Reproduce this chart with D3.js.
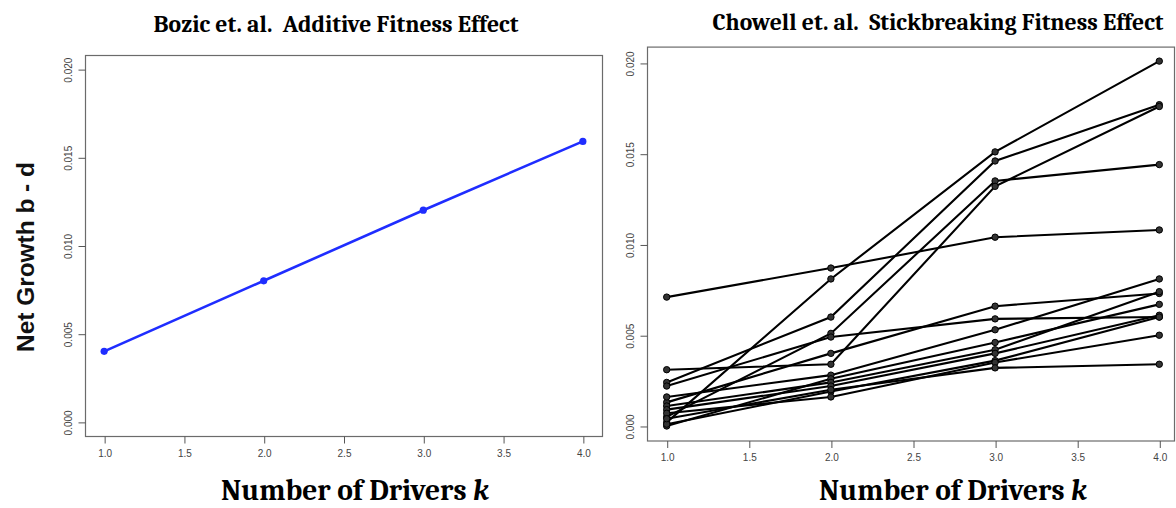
<!DOCTYPE html>
<html><head><meta charset="utf-8">
<script src="https://cdn.jsdelivr.net/npm/d3@7"></script>
<style>body{margin:0;background:#fff}svg{display:block}</style>
</head><body><svg id="c" width="1176" height="508"></svg>
<script>
// ---- data ----
const drivers = [1, 2, 3, 4];
const xTicks = [1.0, 1.5, 2.0, 2.5, 3.0, 3.5, 4.0];
const yTicks = [0.000, 0.005, 0.010, 0.015, 0.020];
const bozicValues = [0.0040, 0.0080, 0.0120, 0.0159];
const chowell01 = [0.0071, 0.0087, 0.0104, 0.0108];
const chowell02 = [0.0002, 0.0081, 0.0151, 0.0201];
const chowell03 = [0.0024, 0.0060, 0.0146, 0.0177];
const chowell04 = [0.0005, 0.0051, 0.0135, 0.0144];
const chowell05 = [0.0031, 0.0034, 0.0132, 0.0176];
const chowell06 = [0.0022, 0.0049, 0.0059, 0.0060];
const chowell07 = [0.0013, 0.0040, 0.0066, 0.0073];
const chowell08 = [0.0016, 0.0028, 0.0053, 0.0081];
const chowell09 = [0.0000, 0.0026, 0.0046, 0.0067];
const chowell10 = [0.0011, 0.0024, 0.0042, 0.0074];
const chowell11 = [0.0009, 0.0022, 0.0040, 0.0061];
const chowell12 = [0.0001, 0.0019, 0.0036, 0.0060];
const chowell13 = [0.0007, 0.0016, 0.0035, 0.0050];
const chowell14 = [0.0004, 0.0020, 0.0032, 0.0034];
const chowellSeries = [chowell01, chowell02, chowell03, chowell04, chowell05, chowell06, chowell07,
  chowell08, chowell09, chowell10, chowell11, chowell12, chowell13, chowell14];
const titleLeft = "Bozic et. al.  Additive Fitness Effect";
const titleRight = "Chowell et. al.  Stickbreaking Fitness Effect";
const yLabel = "Net Growth b - d";

const svg = d3.select("#c");
const fmt = d3.format(".1f"), fmtY = d3.format(".3f");

function panel(opt) {
  const g = svg.append("g");
  const x = d3.scaleLinear().domain([0.88, 4.12]).range(opt.xr);
  const y = d3.scaleLinear().domain(opt.yd).range(opt.yr);
  const left = opt.xr[0], right = Math.min(opt.xr[1], opt.frameRight || opt.xr[1]);
  const top = opt.yr[1], bottom = opt.yr[0];
  // frame
  g.append("rect").attr("x", left + 0.5).attr("y", top + 0.5)
    .attr("width", right - left).attr("height", bottom - top)
    .attr("fill", "none").attr("stroke", "#6b6b6b").attr("stroke-width", 1.2);
  // x axis
  const xa = g.append("g").attr("transform", `translate(0.5,${bottom + 0.5})`)
    .call(d3.axisBottom(x).tickValues(xTicks).tickFormat(fmt).tickSize(7).tickPadding(6));
  xa.select(".domain").remove();
  xa.selectAll("line").attr("stroke", "#555");
  xa.selectAll("text").attr("font-family", "Liberation Sans, Arial, sans-serif")
    .attr("font-size", 10).attr("fill", "#444");
  // y axis
  const ya = g.append("g").attr("transform", `translate(${left + 0.5},0.5)`)
    .call(d3.axisLeft(y).tickValues(yTicks).tickFormat(fmtY).tickSize(7).tickPadding(0));
  ya.select(".domain").remove();
  ya.selectAll("line").attr("stroke", "#555");
  ya.selectAll("text")
    .attr("font-family", "Liberation Sans, Arial, sans-serif").attr("font-size", 10).attr("fill", "#444")
    .attr("x", null).attr("dy", null)
    .attr("text-anchor", "middle").attr("dominant-baseline", "central")
    .attr("transform", "translate(-17,0) rotate(-90)");
  return { g, x, y };
}

// left panel
const L = panel({ xr: [85, 602], yd: [-0.0008, 0.0208], yr: [436, 55] });
const lineL = d3.line().x((d, i) => L.x(drivers[i])).y(d => L.y(d));
L.g.append("path").datum(bozicValues).attr("d", lineL)
  .attr("fill", "none").attr("stroke", "#1f2dff").attr("stroke-width", 2.6);
L.g.selectAll("circle.b").data(bozicValues).join("circle")
  .attr("cx", (d, i) => L.x(drivers[i])).attr("cy", d => L.y(d)).attr("r", 3.6)
  .attr("fill", "#1f2dff");

// right panel
const R = panel({ xr: [647, 1179], frameRight: 1174, yd: [-0.0008, 0.0209], yr: [440.5, 46.6] });
const lineR = d3.line().x((d, i) => R.x(drivers[i])).y(d => R.y(d));
R.g.selectAll("path.s").data(chowellSeries).join("path")
  .attr("d", lineR).attr("fill", "none").attr("stroke", "#000").attr("stroke-width", 2.1);
chowellSeries.forEach(s => {
  R.g.selectAll(null).data(s).join("circle")
    .attr("cx", (d, i) => R.x(drivers[i])).attr("cy", d => R.y(d)).attr("r", 3.2)
    .attr("fill", "#333").attr("stroke", "#000").attr("stroke-width", 1);
});

// titles
function fitText(sel, w) {
  const len = sel.node().getComputedTextLength();
  const fs = parseFloat(sel.attr("font-size"));
  sel.attr("font-size", fs * w / len);
}
const serif = "Cambria, 'Liberation Serif', 'DejaVu Serif', serif";
const t1 = svg.append("text").attr("x", 336).attr("y", 32).attr("text-anchor", "middle")
  .attr("font-family", serif).attr("font-weight", "bold").attr("font-size", 20)
  .style("white-space", "pre").text(titleLeft);
fitText(t1, 365);
const t2 = svg.append("text").attr("x", 938).attr("y", 30).attr("text-anchor", "middle")
  .attr("font-family", serif).attr("font-weight", "bold").attr("font-size", 20)
  .style("white-space", "pre").text(titleRight);
fitText(t2, 451);

function xTitle(cx) {
  const t = svg.append("text").attr("x", cx).attr("y", 500).attr("text-anchor", "middle")
    .attr("font-family", serif).attr("font-weight", "bold").attr("font-size", 26);
  t.append("tspan").text("Number of Drivers ");
  t.append("tspan").attr("font-style", "italic").text("k");
  fitText(t, 268);
}
xTitle(355);
xTitle(953);

const yt = svg.append("text").attr("transform", "translate(34,257) rotate(-90)")
  .attr("text-anchor", "middle").attr("font-family", "Liberation Sans, Arial, sans-serif")
  .attr("font-weight", "bold").attr("font-size", 20).attr("fill", "#111").text(yLabel);
fitText(yt, 190);
</script></body></html>
